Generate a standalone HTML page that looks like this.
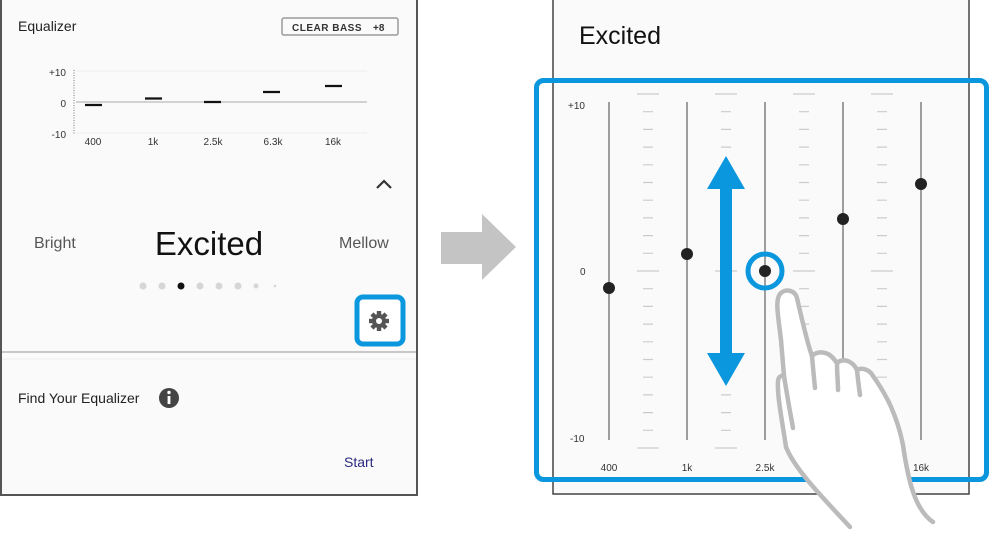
<!DOCTYPE html>
<html><head><meta charset="utf-8"><style>
html,body{margin:0;padding:0;background:#fff;width:1000px;height:538px;overflow:hidden}
svg{display:block}
text{font-family:"Liberation Sans",sans-serif}
</style></head><body>
<svg width="1000" height="538" viewBox="0 0 1000 538" xmlns="http://www.w3.org/2000/svg">
<!-- LEFT PANEL -->
<rect x="1" y="-2" width="416" height="497" fill="#fafafa" stroke="#555" stroke-width="2"/>
<text x="18" y="31" font-size="14" fill="#222">Equalizer</text>
<rect x="282" y="18" width="116" height="17" rx="2" fill="none" stroke="#999" stroke-width="1.5"/>
<text x="292" y="31" font-size="10" font-weight="bold" fill="#333" letter-spacing="0.5">CLEAR BASS</text>
<text x="373" y="31" font-size="10" font-weight="bold" fill="#333">+8</text>
<!-- mini chart -->
<text x="66" y="76" font-size="10" fill="#333" text-anchor="end">+10</text>
<text x="66" y="107" font-size="10" fill="#333" text-anchor="end">0</text>
<text x="66" y="138" font-size="10" fill="#333" text-anchor="end">-10</text>
<line x1="74" y1="70" x2="74" y2="135" stroke="#bbb" stroke-width="2" stroke-dasharray="1,1.5"/>
<line x1="76" y1="71" x2="367" y2="71" stroke="#eee"/>
<line x1="76" y1="133" x2="367" y2="133" stroke="#eee"/>
<line x1="76" y1="102" x2="367" y2="102" stroke="#aaa"/>
<g stroke="#111" stroke-width="2.2">
<line x1="85" y1="105" x2="102" y2="105"/>
<line x1="145" y1="98.5" x2="162" y2="98.5"/>
<line x1="204" y1="102" x2="221" y2="102"/>
<line x1="263" y1="92" x2="280" y2="92"/>
<line x1="325" y1="86" x2="342" y2="86"/>
</g>
<g font-size="10" fill="#333" text-anchor="middle">
<text x="93" y="145">400</text><text x="153" y="145">1k</text><text x="213" y="145">2.5k</text><text x="273" y="145">6.3k</text><text x="333" y="145">16k</text>
</g>
<polyline points="377,188 384,181 391,188" fill="none" stroke="#333" stroke-width="2.2"/>
<text x="34" y="248" font-size="16" fill="#555">Bright</text>
<text x="209" y="255" font-size="33" fill="#111" text-anchor="middle">Excited</text>
<text x="339" y="248" font-size="16" fill="#555">Mellow</text>
<g fill="#d6d6d6">
<circle cx="143" cy="286" r="3.5"/><circle cx="162" cy="286" r="3.5"/><circle cx="200" cy="286" r="3.5"/><circle cx="219" cy="286" r="3.5"/><circle cx="238" cy="286" r="3.5"/><circle cx="256" cy="286" r="2.5"/><circle cx="275" cy="286" r="1.3"/>
</g>
<circle cx="181" cy="286" r="3.5" fill="#111"/>
<rect x="357" y="297" width="46" height="47" rx="6" fill="#fff" stroke="#0a97dd" stroke-width="5"/>
<g transform="translate(379,321)" fill="#555">
<circle r="7"/>
<g><rect x="-2.2" y="-10" width="4.4" height="20"/><rect x="-2.2" y="-10" width="4.4" height="20" transform="rotate(45)"/><rect x="-2.2" y="-10" width="4.4" height="20" transform="rotate(90)"/><rect x="-2.2" y="-10" width="4.4" height="20" transform="rotate(135)"/></g>
<circle r="3" fill="#fff"/>
</g>
<line x1="2" y1="352" x2="416" y2="352" stroke="#c8c8c8" stroke-width="2"/>
<line x1="2" y1="359" x2="416" y2="359" stroke="#eee" stroke-width="1"/>
<text x="18" y="403" font-size="14" fill="#222">Find Your Equalizer</text>
<circle cx="169" cy="398" r="10" fill="#444"/>
<rect x="167.6" y="396" width="2.8" height="8" fill="#fff"/>
<circle cx="169" cy="392.5" r="1.7" fill="#fff"/>
<text x="344" y="467" font-size="14" fill="#2a2a80">Start</text>

<!-- gray arrow -->
<polygon points="441,232 482,232 482,214 516,247 482,280 482,264 441,264" fill="#c4c4c4"/>

<!-- RIGHT PANEL -->
<rect x="553" y="-2" width="416" height="496" fill="#fafafa" stroke="#444" stroke-width="1.5"/>
<text x="579" y="44" font-size="25" fill="#111">Excited</text>
<g font-size="10" fill="#333">
<text x="568" y="109">+10</text><text x="580" y="275">0</text><text x="570" y="442">-10</text>
</g>
<g stroke="#777" stroke-width="1.4">
<line x1="609" y1="102" x2="609" y2="440"/><line x1="687" y1="102" x2="687" y2="440"/><line x1="765" y1="102" x2="765" y2="440"/><line x1="843" y1="102" x2="843" y2="440"/><line x1="921" y1="102" x2="921" y2="440"/>
</g>
<g stroke="#ccc" stroke-width="1.2">
<line x1="637" y1="94" x2="659" y2="94"/><line x1="637" y1="271" x2="659" y2="271"/><line x1="637" y1="448" x2="659" y2="448"/>
<line x1="715" y1="94" x2="737" y2="94"/><line x1="715" y1="271" x2="737" y2="271"/><line x1="715" y1="448" x2="737" y2="448"/>
<line x1="793" y1="94" x2="815" y2="94"/><line x1="793" y1="271" x2="815" y2="271"/><line x1="793" y1="448" x2="815" y2="448"/>
<line x1="871" y1="94" x2="893" y2="94"/><line x1="871" y1="271" x2="893" y2="271"/><line x1="871" y1="448" x2="893" y2="448"/>
</g>
<g stroke="#ccc" stroke-width="1.2">
<path d="M643 111.7h10M643 129.4h10M643 147.1h10M643 164.8h10M643 182.5h10M643 200.2h10M643 217.9h10M643 235.6h10M643 253.3h10M643 288.7h10M643 306.4h10M643 324.1h10M643 341.8h10M643 359.5h10M643 377.2h10M643 394.9h10M643 412.6h10M643 430.3h10"/>
<path d="M721 111.7h10M721 129.4h10M721 147.1h10M721 164.8h10M721 182.5h10M721 200.2h10M721 217.9h10M721 235.6h10M721 253.3h10M721 288.7h10M721 306.4h10M721 324.1h10M721 341.8h10M721 359.5h10M721 377.2h10M721 394.9h10M721 412.6h10M721 430.3h10"/>
<path d="M799 111.7h10M799 129.4h10M799 147.1h10M799 164.8h10M799 182.5h10M799 200.2h10M799 217.9h10M799 235.6h10M799 253.3h10M799 288.7h10M799 306.4h10M799 324.1h10M799 341.8h10M799 359.5h10M799 377.2h10M799 394.9h10M799 412.6h10M799 430.3h10"/>
<path d="M877 111.7h10M877 129.4h10M877 147.1h10M877 164.8h10M877 182.5h10M877 200.2h10M877 217.9h10M877 235.6h10M877 253.3h10M877 288.7h10M877 306.4h10M877 324.1h10M877 341.8h10M877 359.5h10M877 377.2h10M877 394.9h10M877 412.6h10M877 430.3h10"/>
</g>
<g fill="#222">
<circle cx="609" cy="288" r="6"/><circle cx="687" cy="254" r="6"/><circle cx="765" cy="271" r="6"/><circle cx="843" cy="219" r="6"/><circle cx="921" cy="184" r="6"/>
</g>
<circle cx="765" cy="271" r="17" fill="none" stroke="#0a97dd" stroke-width="5"/>
<g font-size="10" fill="#333" text-anchor="middle">
<text x="609" y="471">400</text><text x="687" y="471">1k</text><text x="765" y="471">2.5k</text><text x="921" y="471">16k</text>
</g>
<!-- blue arrow -->
<polygon points="726,156 745,189 732,189 732,353 745,353 726,386 707,353 720,353 720,189 707,189" fill="#0a97dd"/>
<!-- blue frame -->
<rect x="536.5" y="80.5" width="450" height="399" rx="7" fill="none" stroke="#0a97dd" stroke-width="5"/>
<!-- hand (on top of frame) -->
<path d="M850,527 C825,500 795,470 786,447 C782,420 777,395 778,382 C778,377 781,375 784,376 L781,340 C778,315 775,300 780,294 C785,288 795,290 797,298 C802,320 808,345 812,356 C818,350 828,352 833,358 C835,360 836,362 837,363 C843,358 852,360 857,370 C862,367 870,370 873,376 C886,394 897,415 903,445 C908,480 915,510 933,522 Z" fill="#fff"/>
<g fill="none" stroke="#bbb" stroke-width="4.5" stroke-linecap="round" stroke-linejoin="round">
<path d="M850,527 C825,500 795,470 786,447 C782,420 777,395 778,382 C778,377 781,375 784,376 L781,340 C778,315 775,300 780,294 C785,288 795,290 797,298 C802,320 808,345 812,356 C818,350 828,352 833,358 C835,360 836,362 837,363 C843,358 852,360 857,370 C862,367 870,370 873,376 C886,394 897,415 903,445 C908,480 915,510 933,522"/>
<path d="M784,376 C787,395 790,412 793,428"/>
<path d="M812,356 C813,368 814,378 815,388"/>
<path d="M837,363 C837,374 838,382 838,390"/>
<path d="M857,370 C858,380 859,388 860,395"/>
</g>
</svg>
</body></html>
